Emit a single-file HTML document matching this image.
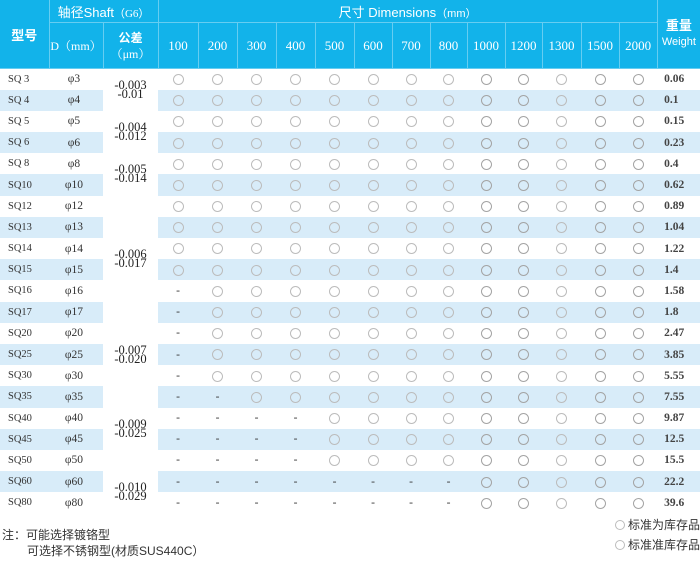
<!DOCTYPE html>
<html><head><meta charset="utf-8"><style>
html,body{margin:0;padding:0;background:#fff;width:700px;height:569px;overflow:hidden;position:relative}
table{position:absolute;left:0;top:0;width:700px;border-collapse:collapse;table-layout:fixed;font-family:"Liberation Serif","Noto Serif CJK SC",serif;font-size:11.5px;color:#333}
td,th{padding:0;text-align:center;vertical-align:middle;white-space:nowrap}
th{background:#12b3ea;color:#fff;font-weight:normal;border-left:1px solid #66cdf1;border-bottom:1px solid #66cdf1}
th.f{border-left:none}
.h1 th{height:22px}
.h2 th{height:45px;font-size:13px}
.sans{font-family:"Liberation Sans","Noto Sans CJK SC",sans-serif}
tbody tr{height:21.2px}
tr.s td{background:#d8ecf9}
tr.s td.t,td.t{background:#fff;font-size:12.5px;line-height:9px;color:#222}
td.w{text-align:left;padding-left:7px;font-weight:bold;color:#444}
td.n{text-align:left;padding-left:8px;font-size:10.5px}
td.p{padding-right:4px}
i{display:inline-block;width:9px;height:9px;border:1px solid #bcbcbc;border-radius:50%;vertical-align:middle}
b{display:inline-block;width:9px;height:9px;border:1.4px solid #a4a4a4;border-radius:50%;vertical-align:middle}
.ft{position:absolute;font-family:"Liberation Sans","Noto Sans CJK SC",sans-serif;font-size:12px;color:#333;white-space:nowrap}
.ft i{width:8px;height:8px;margin-right:3px;vertical-align:-1px}
</style></head><body>
<table>
<colgroup><col style="width:49px"><col style="width:54px"><col style="width:55px"><col style="width:40px"><col style="width:39px"><col style="width:39px"><col style="width:39px"><col style="width:39px"><col style="width:38px"><col style="width:38px"><col style="width:37px"><col style="width:38px"><col style="width:37px"><col style="width:39px"><col style="width:38px"><col style="width:38px"><col style="width:43px"></colgroup>
<thead>
<tr class="h1"><th class="f sans" rowspan="2" style="font-size:13px;font-weight:bold">型号</th><th colspan="2" class="sans" style="font-size:13px">轴径Shaft<span style="font-family:'Liberation Serif',serif;font-size:11px">（G6）</span></th><th colspan="13" class="sans" style="font-size:13px">尺寸 Dimensions<span style="font-size:11px">（mm）</span></th><th rowspan="2" class="sans" style="line-height:15px"><span style="font-size:13px;font-weight:bold">重量</span><br><span style="font-size:11px">Weight</span></th></tr>
<tr class="h2"><th style="font-size:12px">D（mm）</th><th style="line-height:16px;font-size:12px"><span class="sans" style="font-weight:bold">公差</span><br>（μm）</th><th>100</th><th>200</th><th>300</th><th>400</th><th>500</th><th>600</th><th>700</th><th>800</th><th>1000</th><th>1200</th><th>1300</th><th>1500</th><th>2000</th></tr>
</thead>
<tbody>
<tr><td class="n">SQ 3</td><td class="p">φ3</td><td class="t" rowspan="2">-0.003<br>-0.01</td><td><i></i></td><td><i></i></td><td><i></i></td><td><i></i></td><td><i></i></td><td><i></i></td><td><i></i></td><td><i></i></td><td><b></b></td><td><b></b></td><td><i></i></td><td><b></b></td><td><b></b></td><td class="w">0.06</td></tr>
<tr class="s"><td class="n">SQ 4</td><td class="p">φ4</td><td><i></i></td><td><i></i></td><td><i></i></td><td><i></i></td><td><i></i></td><td><i></i></td><td><i></i></td><td><i></i></td><td><b></b></td><td><b></b></td><td><i></i></td><td><b></b></td><td><b></b></td><td class="w">0.1</td></tr>
<tr><td class="n">SQ 5</td><td class="p">φ5</td><td class="t" rowspan="2">-0.004<br>-0.012</td><td><i></i></td><td><i></i></td><td><i></i></td><td><i></i></td><td><i></i></td><td><i></i></td><td><i></i></td><td><i></i></td><td><b></b></td><td><b></b></td><td><i></i></td><td><b></b></td><td><b></b></td><td class="w">0.15</td></tr>
<tr class="s"><td class="n">SQ 6</td><td class="p">φ6</td><td><i></i></td><td><i></i></td><td><i></i></td><td><i></i></td><td><i></i></td><td><i></i></td><td><i></i></td><td><i></i></td><td><b></b></td><td><b></b></td><td><i></i></td><td><b></b></td><td><b></b></td><td class="w">0.23</td></tr>
<tr><td class="n">SQ 8</td><td class="p">φ8</td><td class="t" rowspan="2">-0.005<br>-0.014</td><td><i></i></td><td><i></i></td><td><i></i></td><td><i></i></td><td><i></i></td><td><i></i></td><td><i></i></td><td><i></i></td><td><b></b></td><td><b></b></td><td><i></i></td><td><b></b></td><td><b></b></td><td class="w">0.4</td></tr>
<tr class="s"><td class="n">SQ10</td><td class="p">φ10</td><td><i></i></td><td><i></i></td><td><i></i></td><td><i></i></td><td><i></i></td><td><i></i></td><td><i></i></td><td><i></i></td><td><b></b></td><td><b></b></td><td><i></i></td><td><b></b></td><td><b></b></td><td class="w">0.62</td></tr>
<tr><td class="n">SQ12</td><td class="p">φ12</td><td class="t" rowspan="6">-0.006<br>-0.017</td><td><i></i></td><td><i></i></td><td><i></i></td><td><i></i></td><td><i></i></td><td><i></i></td><td><i></i></td><td><i></i></td><td><b></b></td><td><b></b></td><td><i></i></td><td><b></b></td><td><b></b></td><td class="w">0.89</td></tr>
<tr class="s"><td class="n">SQ13</td><td class="p">φ13</td><td><i></i></td><td><i></i></td><td><i></i></td><td><i></i></td><td><i></i></td><td><i></i></td><td><i></i></td><td><i></i></td><td><b></b></td><td><b></b></td><td><i></i></td><td><b></b></td><td><b></b></td><td class="w">1.04</td></tr>
<tr><td class="n">SQ14</td><td class="p">φ14</td><td><i></i></td><td><i></i></td><td><i></i></td><td><i></i></td><td><i></i></td><td><i></i></td><td><i></i></td><td><i></i></td><td><b></b></td><td><b></b></td><td><i></i></td><td><b></b></td><td><b></b></td><td class="w">1.22</td></tr>
<tr class="s"><td class="n">SQ15</td><td class="p">φ15</td><td><i></i></td><td><i></i></td><td><i></i></td><td><i></i></td><td><i></i></td><td><i></i></td><td><i></i></td><td><i></i></td><td><b></b></td><td><b></b></td><td><i></i></td><td><b></b></td><td><b></b></td><td class="w">1.4</td></tr>
<tr><td class="n">SQ16</td><td class="p">φ16</td><td>-</td><td><i></i></td><td><i></i></td><td><i></i></td><td><i></i></td><td><i></i></td><td><i></i></td><td><i></i></td><td><b></b></td><td><b></b></td><td><i></i></td><td><b></b></td><td><b></b></td><td class="w">1.58</td></tr>
<tr class="s"><td class="n">SQ17</td><td class="p">φ17</td><td>-</td><td><i></i></td><td><i></i></td><td><i></i></td><td><i></i></td><td><i></i></td><td><i></i></td><td><i></i></td><td><b></b></td><td><b></b></td><td><i></i></td><td><b></b></td><td><b></b></td><td class="w">1.8</td></tr>
<tr><td class="n">SQ20</td><td class="p">φ20</td><td class="t" rowspan="3">-0.007<br>-0.020</td><td>-</td><td><i></i></td><td><i></i></td><td><i></i></td><td><i></i></td><td><i></i></td><td><i></i></td><td><i></i></td><td><b></b></td><td><b></b></td><td><i></i></td><td><b></b></td><td><b></b></td><td class="w">2.47</td></tr>
<tr class="s"><td class="n">SQ25</td><td class="p">φ25</td><td>-</td><td><i></i></td><td><i></i></td><td><i></i></td><td><i></i></td><td><i></i></td><td><i></i></td><td><i></i></td><td><b></b></td><td><b></b></td><td><i></i></td><td><b></b></td><td><b></b></td><td class="w">3.85</td></tr>
<tr><td class="n">SQ30</td><td class="p">φ30</td><td>-</td><td><i></i></td><td><i></i></td><td><i></i></td><td><i></i></td><td><i></i></td><td><i></i></td><td><i></i></td><td><b></b></td><td><b></b></td><td><i></i></td><td><b></b></td><td><b></b></td><td class="w">5.55</td></tr>
<tr class="s"><td class="n">SQ35</td><td class="p">φ35</td><td class="t" rowspan="4">-0.009<br>-0.025</td><td>-</td><td>-</td><td><i></i></td><td><i></i></td><td><i></i></td><td><i></i></td><td><i></i></td><td><i></i></td><td><b></b></td><td><b></b></td><td><i></i></td><td><b></b></td><td><b></b></td><td class="w">7.55</td></tr>
<tr><td class="n">SQ40</td><td class="p">φ40</td><td>-</td><td>-</td><td>-</td><td>-</td><td><i></i></td><td><i></i></td><td><i></i></td><td><i></i></td><td><b></b></td><td><b></b></td><td><i></i></td><td><b></b></td><td><b></b></td><td class="w">9.87</td></tr>
<tr class="s"><td class="n">SQ45</td><td class="p">φ45</td><td>-</td><td>-</td><td>-</td><td>-</td><td><i></i></td><td><i></i></td><td><i></i></td><td><i></i></td><td><b></b></td><td><b></b></td><td><i></i></td><td><b></b></td><td><b></b></td><td class="w">12.5</td></tr>
<tr><td class="n">SQ50</td><td class="p">φ50</td><td>-</td><td>-</td><td>-</td><td>-</td><td><i></i></td><td><i></i></td><td><i></i></td><td><i></i></td><td><b></b></td><td><b></b></td><td><i></i></td><td><b></b></td><td><b></b></td><td class="w">15.5</td></tr>
<tr class="s"><td class="n">SQ60</td><td class="p">φ60</td><td class="t" rowspan="2">-0.010<br>-0.029</td><td>-</td><td>-</td><td>-</td><td>-</td><td>-</td><td>-</td><td>-</td><td>-</td><td><b></b></td><td><b></b></td><td><i></i></td><td><b></b></td><td><b></b></td><td class="w">22.2</td></tr>
<tr><td class="n">SQ80</td><td class="p">φ80</td><td>-</td><td>-</td><td>-</td><td>-</td><td>-</td><td>-</td><td>-</td><td>-</td><td><b></b></td><td><b></b></td><td><i></i></td><td><b></b></td><td><b></b></td><td class="w">39.6</td></tr>
</tbody>
</table>
<div class="ft" style="left:2px;top:526px">注：可能选择镀铬型</div>
<div class="ft" style="left:27px;top:542px">可选择不锈钢型(材质SUS440C）</div>
<div class="ft" style="left:615px;top:516px"><i></i>标准为库存品</div>
<div class="ft" style="left:615px;top:536px"><i></i>标准准库存品</div>
</body></html>
